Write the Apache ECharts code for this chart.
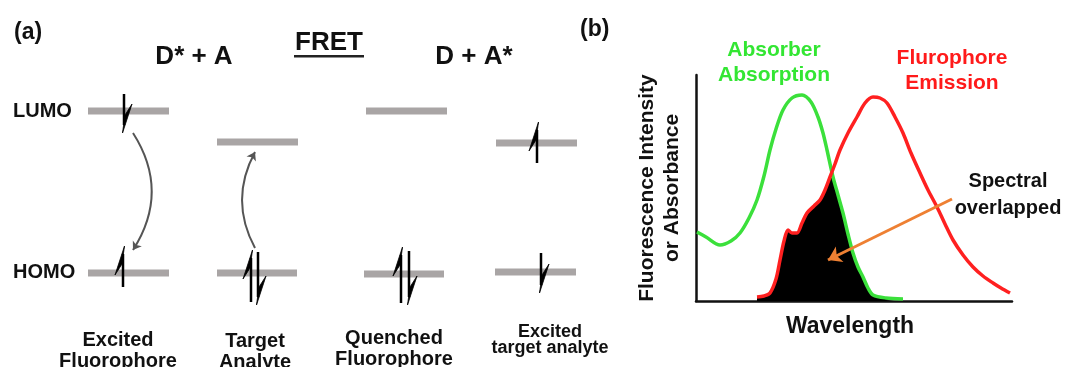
<!DOCTYPE html>
<html>
<head>
<meta charset="utf-8">
<script src="https://cdn.jsdelivr.net/npm/echarts@6/dist/echarts.min.js"></script>
<style>
  html, body { margin: 0; padding: 0; background: #fff; }
  #chart { width: 1065px; height: 367px; }
</style>
</head>
<body>
<div id="chart"></div>
<script>
// panel (a): energy levels [xStart, xEnd, y] in the diagram's own coordinates
const levels = [
  [88, 169, 111], [88, 169, 273],
  [217, 298, 142], [217, 297, 273],
  [366, 447, 111], [364, 444, 274],
  [496, 577, 143], [495, 576, 272]
];
// electrons as half arrows: [x, tail y, tip y, barb side]
const electrons = [
  [124, 94, 133, 1], [123, 287, 246, -1],
  [251, 302, 250, -1], [258, 252, 305, 1],
  [401, 303, 247, -1], [409, 251, 305, 1],
  [537, 163, 122, -1], [541, 253, 293, 1]
];
// transfer arrows: [from, to, curveness]
const transfers = [
  [[133, 133], [133, 250], 0.32],
  [[255, 248], [255, 152], 0.27]
];
const stateLabels = [
  { x: 118, y: 351, size: 20, lh: 21.5, text: 'Excited\nFluorophore' },
  { x: 255, y: 352, size: 20, lh: 21.5, text: 'Target\nAnalyte' },
  { x: 394, y: 349, size: 20, lh: 21.5, text: 'Quenched\nFluorophore' },
  { x: 550, y: 340, size: 18, lh: 16, text: 'Excited\ntarget analyte' }
];

// panel (b): spectra [wavelength, intensity] (arbitrary units)
const absorption = [
  [1, 69], [10, 64], [24, 56], [35, 60], [44, 68], [53, 83], [61, 101], [68, 125],
  [74, 151], [80, 172], [87, 191], [96, 203], [106, 206], [115, 199], [122, 184],
  [127, 168], [131, 151], [137, 124], [142, 106], [147, 88], [152, 67], [157, 48],
  [162, 34], [167, 24], [172, 13], [177, 6], [190, 3], [207, 2]
];
const emission = [
  [61, 4], [68, 5], [74, 8], [80, 22], [84, 41], [88, 60], [92, 71], [96, 68],
  [101, 68], [106, 78], [111, 88], [118, 95], [124, 101], [129, 111], [134, 124],
  [139, 137], [144, 151], [152, 168], [161, 184], [169, 198], [177, 204], [184, 203],
  [191, 198], [199, 184], [207, 168], [215, 148], [224, 128], [232, 111], [241, 94],
  [249, 77], [257, 61], [267, 46], [277, 34], [287, 25], [297, 18], [305, 13], [314, 8]
];
const overlap = [
  [61, 4], [68, 5], [74, 8], [80, 22], [84, 41], [88, 60], [92, 71], [96, 68],
  [101, 68], [106, 78], [111, 88], [118, 95], [124, 101], [129, 111], [134, 122],
  [137, 124], [142, 106], [147, 88], [152, 67], [157, 48], [162, 34], [167, 24],
  [172, 13], [177, 6], [190, 3], [207, 2]
];
const pointer = [[256, 102], [132, 41]];

const font = '"Liberation Sans", Arial, sans-serif';
const grey = '#a9a5a5';

const chart = echarts.init(document.getElementById('chart'));

function bold(text, x, y, size, color, align, lh) {
  return {
    type: 'text', x: x, y: y,
    style: {
      text: text, fill: color || '#111', font: 'bold ' + size + 'px ' + font,
      textAlign: align || 'center', textVerticalAlign: 'middle', lineHeight: lh || size + 4
    }
  };
}

const graphics = [
  bold('(a)', 14, 33, 23, '#111', 'left'),
  bold('D* + A', 194, 57, 26),
  bold('FRET', 329, 43, 26),
  { type: 'rect', shape: { x: 294, y: 55, width: 70, height: 2.5 }, style: { fill: '#222' } },
  bold('D + A*', 474, 57, 26),
  bold('LUMO', 13, 111, 20, '#111', 'left'),
  bold('HOMO', 13, 272, 20, '#111', 'left'),
  bold('(b)', 580, 30, 23, '#111', 'left'),
  bold('Absorber\nAbsorption', 774, 63, 21, '#33e633', 'center', 25),
  bold('Flurophore\nEmission', 952, 71, 21, '#ff1a1a', 'center', 25),
  bold('Spectral\noverlapped', 1008, 195, 20, '#111', 'center', 27)
];
stateLabels.forEach(s => graphics.push(bold(s.text, s.x, s.y, s.size, '#111', 'center', s.lh)));

chart.setOption({
  animation: false,
  graphic: graphics,
  grid: [
    { left: 0, top: 0, width: 540, height: 367 },
    { left: 696, right: 53, top: 75, bottom: 66 }
  ],
  xAxis: [
    { gridIndex: 0, type: 'value', min: 0, max: 540, show: false },
    {
      gridIndex: 1, type: 'value', min: 0, max: 316,
      axisLine: { lineStyle: { color: '#111', width: 2.5 } },
      axisTick: { show: false }, axisLabel: { show: false }, splitLine: { show: false },
      name: 'Wavelength', nameLocation: 'middle', nameGap: 14,
      nameTextStyle: { fontFamily: font, fontWeight: 'bold', fontSize: 23, color: '#111', verticalAlign: 'top', padding: [0, 8, 0, 0] }
    }
  ],
  yAxis: [
    { gridIndex: 0, type: 'value', min: 0, max: 367, inverse: true, show: false },
    {
      gridIndex: 1, type: 'value', min: 0, max: 226,
      axisLine: { show: true, lineStyle: { color: '#111', width: 2.5 } },
      axisTick: { show: false }, axisLabel: { show: false }, splitLine: { show: false },
      name: 'Fluorescence Intensity\nor Absorbance', nameLocation: 'middle', nameGap: 11,
      nameTextStyle: { fontFamily: font, fontWeight: 'bold', fontSize: 21, color: '#111', lineHeight: 25 }
    }
  ],
  series: [
    {
      type: 'custom', xAxisIndex: 0, yAxisIndex: 0, data: levels, silent: true,
      renderItem: (params, api) => {
        const a = api.coord([api.value(0), api.value(2)]);
        const b = api.coord([api.value(1), api.value(2)]);
        return { type: 'rect', shape: { x: a[0], y: a[1] - 3.5, width: b[0] - a[0], height: 7 }, style: { fill: grey } };
      }
    },
    {
      type: 'custom', xAxisIndex: 0, yAxisIndex: 0, data: electrons, silent: true, z: 3,
      renderItem: (params, api) => {
        const tail = api.coord([api.value(0), api.value(1)]);
        const tip = api.coord([api.value(0), api.value(2)]);
        const side = api.value(3);
        const d = tip[1] > tail[1] ? 1 : -1;
        return {
          type: 'group', children: [
            { type: 'line', shape: { x1: tail[0], y1: tail[1], x2: tip[0], y2: tip[1] - d * 8 }, style: { stroke: '#000', lineWidth: 2.5 } },
            {
              type: 'polygon',
              shape: { points: [[tip[0] - side * 1.5, tip[1]], [tip[0] + side * 8, tip[1] - d * 29], [tip[0] + side * 1, tip[1] - d * 18]] },
              style: { fill: '#000', stroke: '#000', lineWidth: 0.8 }
            }
          ]
        };
      }
    },
    {
      type: 'lines', coordinateSystem: 'cartesian2d', xAxisIndex: 0, yAxisIndex: 0, silent: true,
      symbol: ['none', 'arrow'], symbolSize: 8,
      lineStyle: { color: '#555', width: 2, opacity: 1 },
      data: transfers.map(t => ({ coords: [t[0], t[1]], lineStyle: { curveness: t[2] } }))
    },
    {
      type: 'line', xAxisIndex: 1, yAxisIndex: 1, data: overlap, smooth: 0.3, showSymbol: false,
      lineStyle: { width: 0 }, areaStyle: { color: '#000', opacity: 1 }, z: 1
    },
    {
      type: 'line', xAxisIndex: 1, yAxisIndex: 1, data: absorption, smooth: 0.3, showSymbol: false,
      lineStyle: { color: '#3be03b', width: 3.5 }, z: 3
    },
    {
      type: 'line', xAxisIndex: 1, yAxisIndex: 1, data: emission, smooth: 0.3, showSymbol: false,
      lineStyle: { color: '#ff2020', width: 3.5 }, z: 4
    },
    {
      type: 'lines', coordinateSystem: 'cartesian2d', xAxisIndex: 1, yAxisIndex: 1, silent: true, z: 5,
      symbol: ['none', 'arrow'], symbolSize: 13,
      lineStyle: { color: '#ee8033', width: 3, opacity: 1 },
      data: [{ coords: pointer }]
    }
  ]
});
</script>
</body>
</html>
